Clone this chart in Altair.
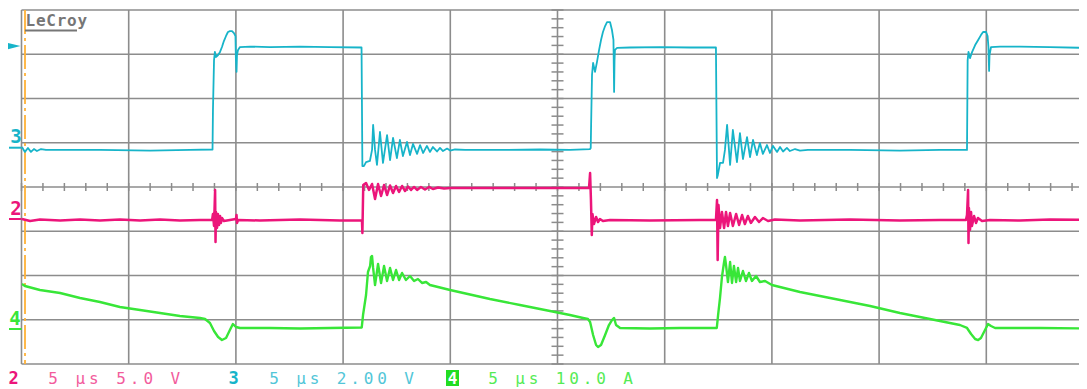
import altair as alt
import pandas as pd
import numpy as np

# ---------------- data (time in microseconds, values in channel units) ----------------
CH3_T = [0.02,0.16,0.30,0.44,0.58,0.72,0.91,1.14,1.80,3.66,6.00,7.86,8.91,
         8.93,8.98,9.02,9.07,9.17,9.26,9.35,9.44,9.54,9.63,9.72,9.82,9.91,9.98,10.00,10.03,10.05,10.10,10.19,10.66,11.59,12.99,14.39,15.86,
         15.90,15.97,16.07,16.25,16.35,16.40,16.49,16.58,16.72,16.86,17.05,17.19,17.33,17.51,17.65,17.79,17.98,18.12,18.26,18.45,18.59,18.73,18.91,19.05,19.19,19.38,19.52,19.66,19.85,19.99,20.22,20.69,22.32,24.18,25.58,
         26.52,26.55,26.57,26.61,26.66,26.75,26.84,26.94,27.03,27.12,27.22,27.31,27.45,27.54,27.61,27.64,27.66,27.68,27.78,28.38,29.78,31.18,32.39,
         32.44,32.48,32.58,32.72,32.81,32.91,33.05,33.18,33.37,33.51,33.65,33.84,33.98,34.12,34.30,34.44,34.58,34.77,34.91,35.05,35.24,35.38,35.52,35.70,35.84,36.08,36.31,36.68,38.64,40.97,42.84,44.10,
         44.13,44.17,44.24,44.34,44.48,44.62,44.75,44.85,44.99,45.06,45.10,45.13,45.15,45.22,45.64,46.57,47.97,49.70]
CH3_V = [0.03,-0.19,-0.01,-0.19,-0.06,-0.15,-0.06,-0.10,-0.10,-0.10,-0.13,-0.10,-0.08,
         1.70,3.96,4.33,4.10,4.19,4.33,4.55,4.82,5.05,5.23,5.27,5.27,5.18,5.05,3.96,3.43,4.19,4.42,4.55,4.57,4.55,4.57,4.55,4.53,
         -0.83,-0.83,-0.65,-0.60,-0.10,1.03,-0.10,-0.78,0.71,-0.69,0.57,-0.56,0.44,-0.47,0.35,-0.38,0.26,-0.33,0.17,-0.28,0.12,-0.24,0.08,-0.19,0.03,-0.17,-0.01,-0.15,-0.04,-0.13,-0.08,-0.10,-0.10,-0.08,-0.10,
         -0.06,-0.01,1.16,3.29,3.83,3.43,3.87,4.42,4.87,5.23,5.50,5.68,5.68,5.32,4.87,2.52,3.96,4.42,4.51,4.53,4.55,4.53,4.53,
         -1.37,-1.23,-0.69,-0.69,-0.10,1.03,-0.78,0.80,-0.65,0.66,-0.51,0.48,-0.42,0.35,-0.33,0.21,-0.28,0.12,-0.24,0.08,-0.19,0.03,-0.17,-0.01,-0.15,-0.06,-0.13,-0.10,-0.10,-0.13,-0.10,-0.10,
         3.96,4.33,4.05,4.33,4.64,4.87,5.09,5.23,5.23,5.05,4.55,3.47,4.19,4.55,4.57,4.57,4.55,4.51]

CH2_T = [0.02,0.40,0.86,1.80,2.73,3.66,4.59,5.53,6.46,7.39,8.33,8.89,8.93,8.98,9.03,9.05,9.07,9.12,9.16,9.21,9.26,9.30,9.35,9.44,9.72,10.00,10.03,10.05,10.10,
         11.12,12.99,14.85,15.88,15.90,15.94,16.07,16.21,16.35,16.49,16.63,16.77,16.91,17.05,17.19,17.33,17.47,17.61,17.75,17.89,18.03,18.17,18.31,18.45,18.63,18.82,19.01,19.19,19.43,19.71,19.99,22.32,24.65,26.47,
         26.52,26.56,26.60,26.63,26.70,26.80,26.89,26.98,27.12,27.45,29.31,31.65,32.39,
         32.44,32.47,32.51,32.58,32.67,32.77,32.86,32.95,33.05,33.18,33.33,33.47,33.61,33.74,33.88,34.02,34.21,34.40,34.58,34.82,35.14,36.31,38.64,40.97,42.84,44.05,
         44.10,44.15,44.17,44.19,44.24,44.29,44.33,44.43,44.52,44.61,44.80,45.17,46.57,47.97,49.70]
CH2_V = [0.00,-0.23,-0.06,-0.17,-0.06,-0.17,-0.06,-0.17,-0.06,-0.17,-0.11,-0.11,0.57,-0.79,3.28,-2.60,0.79,-1.02,0.57,-0.68,0.34,-0.45,0.11,-0.23,-0.11,0.00,0.45,-0.45,-0.11,
         -0.17,-0.06,-0.17,-0.17,-1.58,3.84,4.07,3.28,3.96,2.26,3.96,2.60,3.84,2.71,3.79,2.94,3.73,3.05,3.73,3.16,3.67,3.28,3.62,3.28,3.62,3.33,3.62,3.39,3.56,3.45,3.50,3.50,3.50,3.50,
         5.20,2.15,-1.81,0.57,-0.57,0.23,-0.34,0.00,-0.23,-0.11,-0.17,-0.11,-0.11,
         2.15,-4.63,1.58,-1.02,0.79,-1.02,0.79,-0.79,0.68,-0.79,0.57,-0.68,0.45,-0.57,0.34,-0.45,0.23,-0.34,0.11,-0.23,-0.06,-0.17,-0.06,-0.17,-0.11,-0.11,
         0.45,3.28,-2.71,1.24,-1.24,0.79,-0.79,0.34,-0.45,0.11,-0.23,-0.11,-0.17,-0.06,-0.11]

CH4_T = [0.02,0.16,0.86,1.80,2.73,3.66,4.59,5.53,6.46,7.39,8.33,8.56,8.79,8.98,9.17,9.35,9.54,9.72,9.86,10.00,
         10.19,11.59,12.99,14.39,15.87,15.93,16.07,16.16,16.26,16.30,16.35,16.40,16.49,16.63,16.77,16.91,17.05,17.19,17.33,17.47,
         17.61,17.75,17.93,18.12,18.31,18.49,18.68,18.87,19.05,19.99,21.85,23.25,24.65,25.58,26.19,26.42,26.52,26.66,26.80,26.89,
         27.03,27.22,27.40,27.54,27.64,27.73,27.92,29.31,30.71,32.43,32.49,32.58,32.67,32.77,32.81,32.86,32.95,33.05,33.14,33.23,
         33.33,33.42,33.51,33.65,33.79,33.93,34.07,34.26,34.44,34.68,35.00,36.31,38.18,39.58,40.97,42.37,43.77,44.10,44.29,44.48,
         44.62,44.75,44.94,45.08,45.22,45.41,47.51,49.70]
CH4_A = [10.17,9.72,8.81,8.14,7.01,6.10,4.97,4.29,3.62,2.94,2.49,2.26,1.36,-0.45,-1.81,-2.49,-2.03,-0.23,1.13,0.45,
         0.23,0.23,0.11,0.23,0.34,3.16,7.68,12.88,14.24,16.27,16.50,13.79,9.94,14.69,10.40,14.24,10.85,13.79,11.07,13.33,
         11.07,12.66,11.07,11.98,10.85,11.30,10.40,10.62,9.94,8.81,6.78,5.42,4.07,3.16,2.49,2.26,1.58,-1.36,-3.62,-4.07,
         -3.62,-1.36,0.90,2.03,2.49,0.90,0.23,0.11,0.23,0.23,3.16,7.01,11.75,15.14,16.27,14.46,10.62,15.14,10.40,14.24,
         10.62,13.79,10.85,13.11,10.85,12.66,10.85,11.98,10.62,10.85,9.94,8.36,6.55,5.20,3.62,2.26,0.90,0.23,-1.13,-2.26,
         -2.49,-2.03,-0.23,1.13,0.68,0.23,0.23,0.11]

# channel vertical offsets (divisions from centre) and scales (units per division)
CH_OFFSET = {"2": -0.723, "3": 0.888, "4": -3.209}
CH_SCALE = {"2": 5.0, "3": 2.0, "4": 10.0}

LEGEND_CH = ["2", "3", "4"]
LEGEND_TXT = ["5 µs 5.0 V", "5 µs 2.00 V", "5 µs 10.0 A"]
BRAND = "LeCroy"

assert len(CH3_T) == len(CH3_V) and len(CH2_T) == len(CH2_V) and len(CH4_T) == len(CH4_A)

# ---------------- styling ----------------
CYAN, PINK, GREEN = "#17B4C9", "#EC157A", "#38E638"
CYAN_T, PINK_T, GREEN_T = "#52C6D8", "#F25C9C", "#55EB55"
GRID = "#8C8C8C"
ORANGE = "#FFB238"
PX_PER_US = 21.44
W, H = 1057.5, 354
XMAX = W / PX_PER_US
xs = alt.Scale(domain=[0, XMAX], nice=False, zero=False)
ys = alt.Scale(domain=[-4, 4], nice=False, zero=False)


def trace(ts, vs, ch, color, width):
    df = pd.DataFrame({"t": ts, "v": vs})
    df["i"] = np.arange(len(df))
    df["pos"] = CH_OFFSET[ch] + df["v"] / CH_SCALE[ch]
    return alt.Chart(df).mark_line(color=color, strokeWidth=width, clip=True,
                                   strokeJoin="round").encode(
        x=alt.X("t:Q", scale=xs, axis=None),
        y=alt.Y("pos:Q", scale=ys, axis=None),
        order="i:Q")


def chars(text, x0, pitch, y, color, size, weight="normal"):
    rows = [{"c": c, "px": x0 + i * pitch, "py": y} for i, c in enumerate(text) if c != " "]
    return alt.Chart(pd.DataFrame(rows)).mark_text(
        font="DejaVu Sans Mono", fontSize=size, fontWeight=weight, color=color,
        align="center", baseline="alphabetic").encode(
        x=alt.X("px:Q", scale=None, axis=None),
        y=alt.Y("py:Q", scale=None, axis=None),
        text="c:N")


one = pd.DataFrame({"k": [0]})

vgrid = alt.Chart(pd.DataFrame({"t": np.arange(0, 50, 5)})).mark_rule(
    color=GRID, strokeWidth=1.6).encode(x=alt.X("t:Q", scale=xs, axis=None))
hgrid = alt.Chart(pd.DataFrame({"y": np.arange(-4, 5, 1)})).mark_rule(
    color=GRID, strokeWidth=1.6).encode(y=alt.Y("y:Q", scale=ys, axis=None))

htk = pd.DataFrame({"t": np.arange(0, 50, 1.0)})
htk = htk[htk["t"] <= XMAX]
htk["y0"] = 0.0
hticks = alt.Chart(htk).mark_rule(color=GRID, strokeWidth=1.5, yOffset=-4, y2Offset=4).encode(
    x=alt.X("t:Q", scale=xs, axis=None), y=alt.Y("y0:Q", scale=ys, axis=None), y2="y0:Q")
vtk = pd.DataFrame({"y": np.round(np.arange(-4, 4.01, 0.2), 2)})
vtk["t0"] = 25.0
vticks = alt.Chart(vtk).mark_rule(color=GRID, strokeWidth=1.5, xOffset=-6, x2Offset=6).encode(
    y=alt.Y("y:Q", scale=ys, axis=None), x=alt.X("t0:Q", scale=xs, axis=None), x2="t0:Q")

trig = alt.Chart(one).mark_rule(color=ORANGE, strokeWidth=1.8, strokeDash=[24, 4, 3, 4]).encode(
    x=alt.value(3.5), y=alt.value(0), y2=alt.value(H))

arrow = alt.Chart(one).mark_point(shape="M-1,-0.5L1,0L-1,0.5Z", filled=True, size=169,
                                  color=CYAN, opacity=1).encode(x=alt.value(-7.5), y=alt.value(36))

mk = pd.DataFrame({"ch": ["3", "2", "4"], "off": [CH_OFFSET["3"], CH_OFFSET["2"], CH_OFFSET["4"]]})
markers = alt.Chart(mk).mark_rule(strokeWidth=2).encode(
    y=alt.Y("off:Q", scale=ys, axis=None), x=alt.value(-12.5), x2=alt.value(0),
    color=alt.Color("ch:N", scale=alt.Scale(domain=["3", "2", "4"], range=[CYAN, PINK, GREEN]), legend=None))

lab3 = chars("3", -5.5, 0, 133, CYAN, 19, "bold")
lab2 = chars("2", -5.5, 0, 205, PINK, 19, "bold")
lab4 = chars("4", -6.5, 0, 315, GREEN, 19, "bold")

brand = chars(BRAND, 8.8, 10.4, 15.5, "#767676", 16, "bold")
brand_ul = alt.Chart(one).mark_rule(color="#767676", strokeWidth=2).encode(
    x=alt.value(3.5), x2=alt.value(55.5), y=alt.value(20.5))

LY = 374
leg = [
    chars(LEGEND_CH[0], -8, 0, LY, PINK, 17, "bold"),
    chars(LEGEND_TXT[0], 31.5, 13.6, LY, PINK_T, 16),
    chars(LEGEND_CH[1], 212, 0, LY, CYAN, 17, "bold"),
    chars(LEGEND_TXT[1], 252.5, 13.5, LY, CYAN_T, 16),
    alt.Chart(one).mark_rect(color="#22DD22").encode(
        x=alt.value(424.5), x2=alt.value(437.5), y=alt.value(360), y2=alt.value(376)),
    chars(LEGEND_CH[2], 431, 0, LY, "#FFFFFF", 16, "bold"),
    chars(LEGEND_TXT[2], 471.5, 13.5, LY, GREEN_T, 16),
]

layers = [vgrid, hgrid, hticks, vticks, trig,
          trace(CH3_T, CH3_V, "3", CYAN, 1.8),
          trace(CH4_T, CH4_A, "4", GREEN, 2.4),
          trace(CH2_T, CH2_V, "2", PINK, 2.5),
          markers, arrow, lab3, lab2, lab4, brand, brand_ul] + leg

chart = alt.layer(*layers).resolve_scale(x="independent", y="independent", color="independent").properties(
    width=W, height=H,
    padding={"left": 13.5, "top": 2, "right": 0, "bottom": 25},
    autosize=alt.AutoSizeParams(type="none"),
    background="white",
).configure_view(stroke=None)

chart.save("out.html", embed_options={"renderer": "svg", "actions": False})
